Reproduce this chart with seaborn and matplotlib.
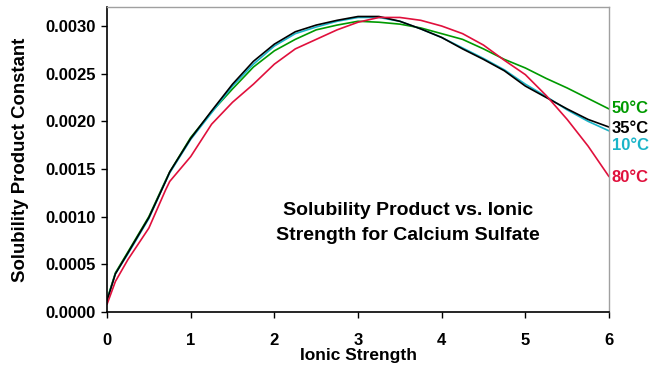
import numpy as np
import pandas as pd
import matplotlib
matplotlib.use("Agg")
import matplotlib.pyplot as plt
import seaborn as sns

# Ionic strength sample points
ionic_strength = [0.0, 0.1, 0.25, 0.5, 0.7, 0.75, 1.0, 1.25, 1.5, 1.75, 2.0, 2.25,
                  2.5, 2.75, 3.0, 3.25, 3.5, 3.75, 4.0, 4.25, 4.5, 4.75, 5.0, 5.25,
                  5.5, 5.75, 6.0]

# Solubility product constant of CaSO4 at each temperature
ksp_10c = [0.00012, 0.00040, 0.00061, 0.00098, 0.00137, 0.00146, 0.00181, 0.00209,
           0.00237, 0.00260, 0.00279, 0.00292, 0.00299, 0.00305, 0.00309, 0.00309,
           0.00305, 0.00297, 0.00288, 0.00277, 0.00266, 0.00254, 0.00239, 0.00226,
           0.00212, 0.00200, 0.00190]
ksp_35c = [0.00012, 0.00040, 0.00062, 0.00099, 0.00137, 0.00147, 0.00182, 0.00211,
           0.00239, 0.00263, 0.00281, 0.00294, 0.00301, 0.00306, 0.00310, 0.00310,
           0.00305, 0.00297, 0.00288, 0.00276, 0.00265, 0.00253, 0.00237, 0.00225,
           0.00213, 0.00202, 0.00194]
ksp_50c = [0.00013, 0.00041, 0.00063, 0.00100, 0.00138, 0.00147, 0.00183, 0.00210,
           0.00234, 0.00257, 0.00274, 0.00286, 0.00296, 0.00301, 0.00305, 0.00304,
           0.00302, 0.00298, 0.00292, 0.00286, 0.00276, 0.00265, 0.00256, 0.00245,
           0.00235, 0.00224, 0.00213]
ksp_80c = [0.00008, 0.00032, 0.00055, 0.00088, 0.00128, 0.00137, 0.00163, 0.00197,
           0.00220, 0.00239, 0.00260, 0.00276, 0.00286, 0.00296, 0.00304, 0.00309,
           0.00309, 0.00306, 0.00300, 0.00292, 0.00280, 0.00264, 0.00249, 0.00227,
           0.00202, 0.00174, 0.00142]

temperatures = ["10°C", "35°C", "50°C", "80°C"]
colors = {"10°C": "#1ab4c8", "35°C": "#000000", "50°C": "#009a00", "80°C": "#e0103c"}

series = {"10°C": ksp_10c, "35°C": ksp_35c, "50°C": ksp_50c, "80°C": ksp_80c}
df = pd.concat(
    [pd.DataFrame({"I": ionic_strength, "Ksp": vals, "T": t}) for t, vals in series.items()],
    ignore_index=True,
)

sns.set_theme(style="white")
plt.rcParams["font.family"] = ["Liberation Sans", "DejaVu Sans"]
plt.rcParams["font.weight"] = "bold"
plt.rcParams["text.color"] = "black"
plt.rcParams["axes.labelcolor"] = "black"
plt.rcParams["xtick.color"] = "black"
plt.rcParams["ytick.color"] = "black"

fig = plt.figure(figsize=(6.51, 3.67), dpi=100)
ax = fig.add_axes([0.1644, 0.150, 0.7711, 0.831])

sns.lineplot(data=df, x="I", y="Ksp", hue="T", hue_order=["50°C", "10°C", "35°C", "80°C"],
             palette=colors, linewidth=1.2, legend=False, ax=ax, sort=False)

ax.set_xlim(0, 6)
ax.set_ylim(0, 0.0032)
ax.set_xticks(range(0, 7))
ax.set_yticks(np.arange(0, 0.00301, 0.0005))
ax.yaxis.set_major_formatter(matplotlib.ticker.FormatStrFormatter("%.4f"))

ax.tick_params(axis="both", which="major", labelsize=12, length=4, width=1,
               color="#000000", labelcolor="#000000", direction="out",
               left=True, bottom=True)
ax.tick_params(axis="x", pad=11)
ax.tick_params(axis="y", pad=4)
for lab in ax.get_xticklabels() + ax.get_yticklabels():
    lab.set_fontweight("bold")

ax.set_xlabel("Ionic Strength", fontsize=12.5, fontweight="bold", labelpad=0, color="black")
ax.set_ylabel("Solubility Product Constant", fontsize=13.4, fontweight="bold",
              labelpad=12, color="black")

for side in ["left", "bottom"]:
    ax.spines[side].set_color("#000000")
    ax.spines[side].set_linewidth(1.2)
for side in ["top", "right"]:
    ax.spines[side].set_color("#a0a0a0")
    ax.spines[side].set_linewidth(1.0)

# End-of-line temperature labels
label_y = {"50°C": 0.00213, "35°C": 0.00192, "10°C": 0.00175, "80°C": 0.00141}
for t in temperatures:
    ax.text(6.03, label_y[t], t, color=colors[t], fontsize=12, fontweight="bold",
            ha="left", va="center", clip_on=False)

ax.text(3.6, 0.00093, "Solubility Product vs. Ionic\nStrength for Calcium Sulfate",
        fontsize=14, fontweight="bold", ha="center", va="center", linespacing=1.6,
        color="black")

fig.savefig("out.png", dpi=100)
